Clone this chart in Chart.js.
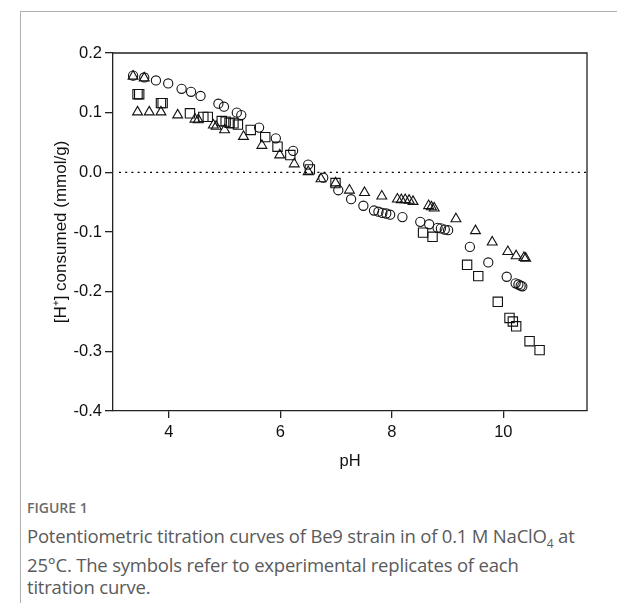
<!DOCTYPE html>
<html lang="en">
<head>
    <meta charset="UTF-8">
    <title>Potentiometric titration curves</title>
    <script src="https://cdn.jsdelivr.net/npm/chart.js"></script>
    <style>
        body { margin: 0; background: #fff; }
        #frame {
            position: absolute; left: 20px; top: 11px; width: 597px; height: 592px;
            border-top: 1px solid #b0b0b0; border-left: 1px solid #b0b0b0;
        }
        #wrap { position: absolute; left: 0; top: 0; width: 617px; height: 480px; }
        .fig { position: absolute; left: 27px; top: 498px; font-family: "Open Sans", sans-serif;
               font-size: 14px; font-weight: 600; color: #6b6b6b; }
        .cap { position: absolute; left: 27px; top: 525px; width: 590px; white-space: nowrap; font-family: "Open Sans", sans-serif;
               font-size: 18.5px; line-height: 21.5px; color: #5a5a5a; letter-spacing: -0.2px; }
    </style>
</head>
<body>
    <div id="frame"></div>
    <div id="wrap"><canvas id="myChart" width="617" height="480"></canvas></div>
    <div class="fig">FIGURE 1</div>
    <div class="cap">Potentiometric titration curves of Be9 strain in of 0.1 M NaClO<sub style="font-size:12px">4</sub> at<br>25°C. The symbols refer to experimental replicates of each<br>titration curve.</div>

    <script>
        // replicate 1 (circles)
        const circlePH = [3.36, 3.56, 3.77, 3.99, 4.23, 4.40, 4.57, 4.89, 4.99, 5.22, 5.30, 5.62, 5.92, 6.23, 6.50, 6.77, 7.04, 7.27, 7.49, 7.68, 7.76, 7.83, 7.90, 7.97, 8.19, 8.51, 8.67, 8.82, 8.88, 8.95, 9.01, 9.40, 9.73, 10.06, 10.22, 10.27, 10.31, 10.34];
        const circleH = [0.162, 0.159, 0.154, 0.149, 0.140, 0.135, 0.128, 0.115, 0.110, 0.100, 0.096, 0.075, 0.057, 0.036, 0.013, -0.009, -0.030, -0.045, -0.056, -0.064, -0.066, -0.068, -0.069, -0.071, -0.075, -0.083, -0.087, -0.093, -0.094, -0.096, -0.097, -0.125, -0.151, -0.175, -0.186, -0.188, -0.190, -0.191];

        // replicate 2 (triangles)
        const trianglePH = [3.36, 3.56, 3.44, 3.65, 3.86, 4.16, 4.47, 4.53, 4.80, 4.85, 5.00, 5.34, 5.67, 5.99, 6.25, 6.50, 6.73, 6.99, 7.24, 7.51, 7.82, 8.10, 8.17, 8.24, 8.31, 8.38, 8.66, 8.71, 8.76, 9.15, 9.50, 9.80, 10.08, 10.23, 10.37, 10.40];
        const triangleH = [0.161, 0.158, 0.101, 0.101, 0.101, 0.096, 0.089, 0.088, 0.079, 0.077, 0.071, 0.060, 0.045, 0.029, 0.014, 0.001, -0.011, -0.018, -0.030, -0.034, -0.040, -0.045, -0.046, -0.046, -0.047, -0.049, -0.056, -0.058, -0.060, -0.078, -0.098, -0.117, -0.133, -0.140, -0.143, -0.144];

        // replicate 3 (squares)
        const squarePH = [3.44, 3.47, 3.86, 3.89, 4.38, 4.62, 4.70, 4.95, 5.02, 5.09, 5.16, 5.24, 5.47, 5.73, 5.95, 6.18, 6.53, 6.99, 8.56, 8.73, 9.35, 9.55, 9.90, 10.11, 10.17, 10.23, 10.47, 10.65];
        const squareH = [0.131, 0.131, 0.116, 0.116, 0.099, 0.093, 0.093, 0.086, 0.085, 0.083, 0.082, 0.080, 0.071, 0.059, 0.043, 0.029, 0.005, -0.018, -0.101, -0.108, -0.155, -0.174, -0.217, -0.244, -0.250, -0.258, -0.283, -0.298];

        const xTicks = [4, 6, 8, 10];
        const yTicks = [-0.4, -0.3, -0.2, -0.1, 0.0, 0.1, 0.2];

        function pts(xs, ys) {
            return xs.map((x, i) => ({ x: x, y: ys[i] }));
        }

        // box on top/right and the dotted zero line
        const extras = {
            id: 'extras',
            beforeDatasetsDraw(chart) {
                const c = chart.ctx, a = chart.chartArea;
                const y0 = chart.scales.y.getPixelForValue(0);
                c.save();
                c.strokeStyle = '#000';
                c.lineWidth = 1.3;
                c.setLineDash([2, 4.2]);
                c.beginPath();
                c.moveTo(a.left + 6, y0);
                c.lineTo(a.right, y0);
                c.stroke();
                c.setLineDash([]);
                c.strokeStyle = '#222';
                c.lineWidth = 1.3;
                c.beginPath();
                c.moveTo(a.left, a.top);
                c.lineTo(a.right, a.top);
                c.lineTo(a.right, a.bottom);
                c.stroke();
                c.restore();
            }
        };

        const common = {
            showLine: false,
            backgroundColor: 'rgba(0,0,0,0)',
            borderColor: '#111',
            borderWidth: 1.1
        };

        const fam = "'Liberation Sans', Arial, sans-serif";

        const ctx = document.getElementById('myChart').getContext('2d');
        const myChart = new Chart(ctx, {
            type: 'scatter',
            data: {
                datasets: [
                    Object.assign({ label: 'Replicate 1', data: pts(circlePH, circleH), pointStyle: 'circle', pointRadius: 4.6 }, common),
                    Object.assign({ label: 'Replicate 2', data: pts(trianglePH, triangleH), pointStyle: 'triangle', pointRadius: 5.7 }, common),
                    Object.assign({ label: 'Replicate 3', data: pts(squarePH, squareH), pointStyle: 'rect', pointRadius: 6.6 }, common)
                ]
            },
            options: {
                responsive: false,
                animation: false,
                layout: { padding: { left: 47, top: 53, right: 30, bottom: 5 } },
                plugins: { legend: { display: false }, tooltip: { enabled: false } },
                scales: {
                    x: {
                        type: 'linear', min: 3, max: 11.5,
                        afterBuildTicks: s => { s.ticks = xTicks.map(v => ({ value: v })); },
                        afterFit: s => { s.height = 64; },
                        grid: { drawOnChartArea: false, drawTicks: true, tickLength: 7, color: '#222', lineWidth: 1.3 },
                        border: { display: true, color: '#222', width: 1.3 },
                        ticks: { color: '#111', padding: 5, font: { family: fam, size: 16.5 } },
                        title: { display: true, text: 'pH', color: '#111', padding: { top: 0 }, font: { family: fam, size: 16.5 } }
                    },
                    y: {
                        type: 'linear', min: -0.4, max: 0.2,
                        afterBuildTicks: s => { s.ticks = yTicks.map(v => ({ value: v })); },
                        afterFit: s => { s.width = 66; },
                        grid: { drawOnChartArea: false, drawTicks: true, tickLength: 8, color: '#222', lineWidth: 1.3 },
                        border: { display: true, color: '#222', width: 1.3 },
                        ticks: { color: '#111', padding: 3, font: { family: fam, size: 16.5 },
                                 callback: v => v.toFixed(1) },
                        title: { display: true, text: '[H⁺] consumed (mmol/g)', color: '#111', padding: { bottom: 0 }, font: { family: fam, size: 17 } }
                    }
                }
            },
            plugins: [extras]
        });
    </script>
</body>
</html>
